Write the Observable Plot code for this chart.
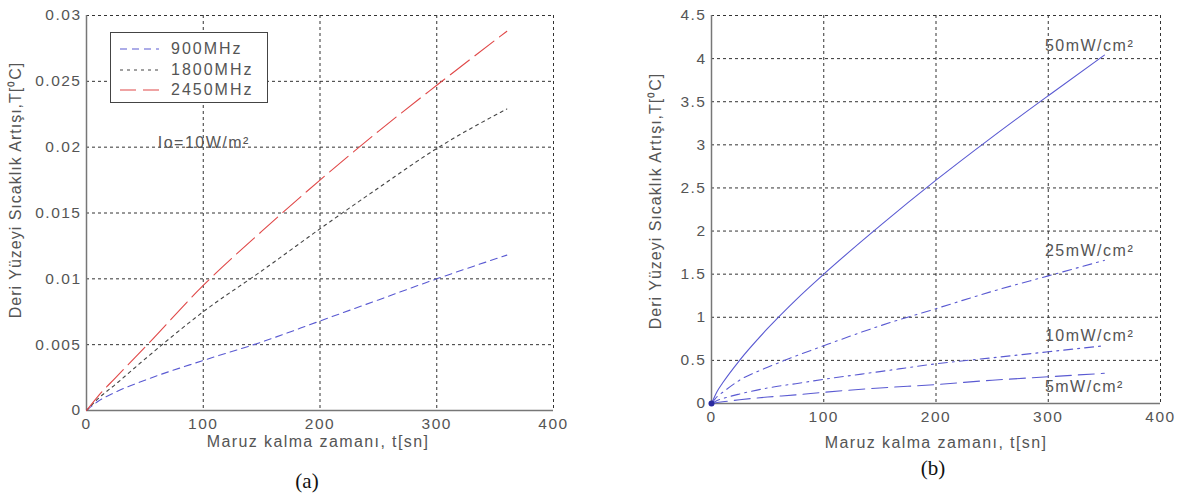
<!DOCTYPE html>
<html>
<head>
<meta charset="utf-8">
<script src="https://cdn.jsdelivr.net/npm/d3@7"></script>
<script src="https://cdn.jsdelivr.net/npm/@observablehq/plot@0.6"></script>
<style>
  html, body { margin: 0; padding: 0; background: #fff; }
  #root { position: relative; width: 1184px; height: 493px; overflow: hidden; font-family: "Liberation Sans", Arial, sans-serif; }
  .panel { position: absolute; top: 0; }
  .lab { position: absolute; color: #555; font-size: 16px; letter-spacing: 1.0px; white-space: nowrap; }
  .ylab { transform: translate(-50%, -50%) rotate(-90deg); }
  .xlab { transform: translate(-50%, -50%); letter-spacing: 1.4px; }
  .cap { position: absolute; font-family: "Liberation Serif", "Times New Roman", serif; font-size: 21px; color: #111; transform: translate(-50%, -50%); }
  .legend { position: absolute; background: #fff; border: 1px solid #444; box-sizing: border-box; }
  .legend .row { position: absolute; left: 0; height: 20px; display: flex; align-items: center; color: #555; font-size: 16px; letter-spacing: 2px; }
</style>
</head>
<body>
<div id="root"></div>
<script>
// ---------- Panel (a) data ----------
const timeA = [0, 10, 25, 50, 100, 150, 200, 250, 300, 360];
const f900  = [0, 0.0007, 0.0014, 0.0023, 0.0038, 0.0052, 0.0068, 0.0084, 0.0100, 0.0118];
const f1800 = [0, 0.0009, 0.0020, 0.0039, 0.0075, 0.0106, 0.0138, 0.0169, 0.0199, 0.0229];
const f2450 = [0, 0.0011, 0.0025, 0.0048, 0.0095, 0.0136, 0.0175, 0.0212, 0.0247, 0.0288];
const seriesA = ["900MHz", "1800MHz", "2450MHz"];
const xTicks = [0, 100, 200, 300, 400];
const yTicksA = [0, 0.005, 0.01, 0.015, 0.02, 0.025, 0.03];
const noteA = ["Io=10W/m²"];
const noteAT = [61];
const noteAV = [0.0203];

// ---------- Panel (b) data ----------
const timeB = [0, 5, 10, 25, 50, 75, 100, 150, 200, 250, 300, 350];
const p50 = [0, 0.14, 0.24, 0.50, 0.87, 1.20, 1.50, 2.06, 2.59, 3.09, 3.57, 4.04];
const p25 = [0, 0.08, 0.13, 0.27, 0.42, 0.55, 0.67, 0.90, 1.10, 1.30, 1.48, 1.66];
const p10 = [0, 0.035, 0.057, 0.11, 0.18, 0.23, 0.28, 0.37, 0.46, 0.53, 0.60, 0.67];
const p5  = [0, 0.012, 0.02, 0.044, 0.075, 0.10, 0.13, 0.18, 0.22, 0.27, 0.31, 0.35];
const seriesB = ["50mW/cm²", "25mW/cm²", "10mW/cm²", "5mW/cm²"];
const yTicksB = [0, 0.5, 1, 1.5, 2, 2.5, 3, 3.5, 4, 4.5];
const labelBT = [297, 297, 297, 297];
const labelBV = [4.15, 1.77, 0.79, 0.19];

const yLabel = "Deri Yüzeyi Sıcaklık Artışı,T[⁰C]";
const xLabel = "Maruz kalma zamanı, t[sn]";

// ---------- styles ----------
const styleA = {
  "900MHz":  {stroke: "#5a5ad2", dash: "7,5", width: 1.1},
  "1800MHz": {stroke: "#444", dash: "3,4", width: 1.1},
  "2450MHz": {stroke: "#e04848", dash: "24,7", width: 1.1}
};
const styleB = {
  "50mW/cm²": {dash: null},
  "25mW/cm²": {dash: "9,5,2,5"},
  "10mW/cm²": {dash: "9,5,2,5"},
  "5mW/cm²":  {dash: "16,7"}
};

const fmt = d => String(+d.toFixed(4));
const font = '"Liberation Sans", Arial, sans-serif';
const gridStyle = {stroke: "#333", strokeOpacity: 1, strokeDasharray: "3,3", strokeWidth: 1};
const axisRule = {stroke: "#777", strokeWidth: 1.5};
const plotStyle = {fontFamily: font, fontSize: "15.5px", letterSpacing: "1.5px", color: "#555", background: "transparent", overflow: "visible"};

const rowsA = [];
[f900, f1800, f2450].forEach((arr, i) => arr.forEach((v, j) => rowsA.push({s: seriesA[i], t: timeA[j], v})));
const rowsB = [];
[p50, p25, p10, p5].forEach((arr, i) => arr.forEach((v, j) => rowsB.push({s: seriesB[i], t: timeB[j], v})));

const root = document.getElementById("root");

// ----- Plot (a) -----
const plotA = Plot.plot({
  width: 590, height: 460,
  marginLeft: 86, marginRight: 37, marginTop: 15, marginBottom: 50,
  style: plotStyle,
  x: {domain: [0, 400], ticks: xTicks, tickSize: 0, tickPadding: 7, label: null, tickFormat: fmt},
  y: {domain: [0, 0.03], ticks: yTicksA, tickSize: 0, tickPadding: 5, label: null, tickFormat: fmt},
  marks: [
    Plot.gridX(xTicks, gridStyle),
    Plot.gridY(yTicksA, gridStyle),
    Plot.ruleX([0], axisRule),
    Plot.ruleY([0], axisRule),
    ...seriesA.map(s => Plot.line(rowsA.filter(r => r.s === s), {
      x: "t", y: "v", stroke: styleA[s].stroke, strokeWidth: styleA[s].width,
      strokeDasharray: styleA[s].dash, curve: "monotone-x"
    })),
    Plot.text(noteA, {x: (d, i) => noteAT[i], y: (d, i) => noteAV[i], text: d => d,
      textAnchor: "start", fill: "#555", fontSize: 16})
  ]
});
const wa = document.createElement("div");
wa.className = "panel"; wa.style.left = "0px";
wa.appendChild(plotA);
root.appendChild(wa);

// ----- Plot (b) -----
const plotB = Plot.plot({
  width: 564, height: 460,
  marginLeft: 91, marginRight: 24, marginTop: 15, marginBottom: 57,
  style: plotStyle,
  x: {domain: [0, 400], ticks: xTicks, tickSize: 0, tickPadding: 7, label: null, tickFormat: fmt},
  y: {domain: [0, 4.5], ticks: yTicksB, tickSize: 0, tickPadding: 5, label: null, tickFormat: fmt},
  marks: [
    Plot.gridX(xTicks, gridStyle),
    Plot.gridY(yTicksB, gridStyle),
    Plot.ruleX([0], axisRule),
    Plot.ruleY([0], axisRule),
    ...seriesB.map(s => Plot.line(rowsB.filter(r => r.s === s), {
      x: "t", y: "v", stroke: "#5a5ad2", strokeWidth: 1.1,
      strokeDasharray: styleB[s].dash, curve: "monotone-x"
    })),
    Plot.dot([0], {x: d => d, y: () => 0, r: 3, fill: "#2a2aa0"}),
    Plot.text(seriesB, {x: (d, i) => labelBT[i], y: (d, i) => labelBV[i], text: d => d,
      textAnchor: "start", fill: "#555", fontSize: 16, letterSpacing: 2})
  ]
});
const wb = document.createElement("div");
wb.className = "panel"; wb.style.left = "620px";
wb.appendChild(plotB);
root.appendChild(wb);

// ----- axis labels / captions -----
function addLabel(text, cls, x, y) {
  const d = document.createElement("div");
  d.className = cls; d.textContent = text;
  d.style.left = x + "px"; d.style.top = y + "px";
  root.appendChild(d);
}
addLabel(yLabel, "lab ylab", 15, 190);
addLabel(yLabel, "lab ylab", 655, 201);
addLabel(xLabel, "lab xlab", 318, 442);
addLabel(xLabel, "lab xlab", 936, 443);
addLabel("(a)", "cap", 307, 481);
addLabel("(b)", "cap", 933, 468);

// ----- legend (a) -----
const leg = document.createElement("div");
leg.className = "legend";
Object.assign(leg.style, {left: "110px", top: "32px", width: "158px", height: "71px"});
seriesA.forEach((s, i) => {
  const row = document.createElement("div");
  row.className = "row";
  row.style.top = (6 + i * 20.5) + "px";
  const st = styleA[s];
  row.innerHTML = `<svg width="58" height="20"><line x1="9" x2="48" y1="10" y2="10" stroke="${st.stroke}" stroke-width="1.1" stroke-dasharray="${s === "2450MHz" ? "16,7" : st.dash}"/></svg><span style="margin-left:2px">${s}</span>`;
  leg.appendChild(row);
});
root.appendChild(leg);
</script>
</body>
</html>
